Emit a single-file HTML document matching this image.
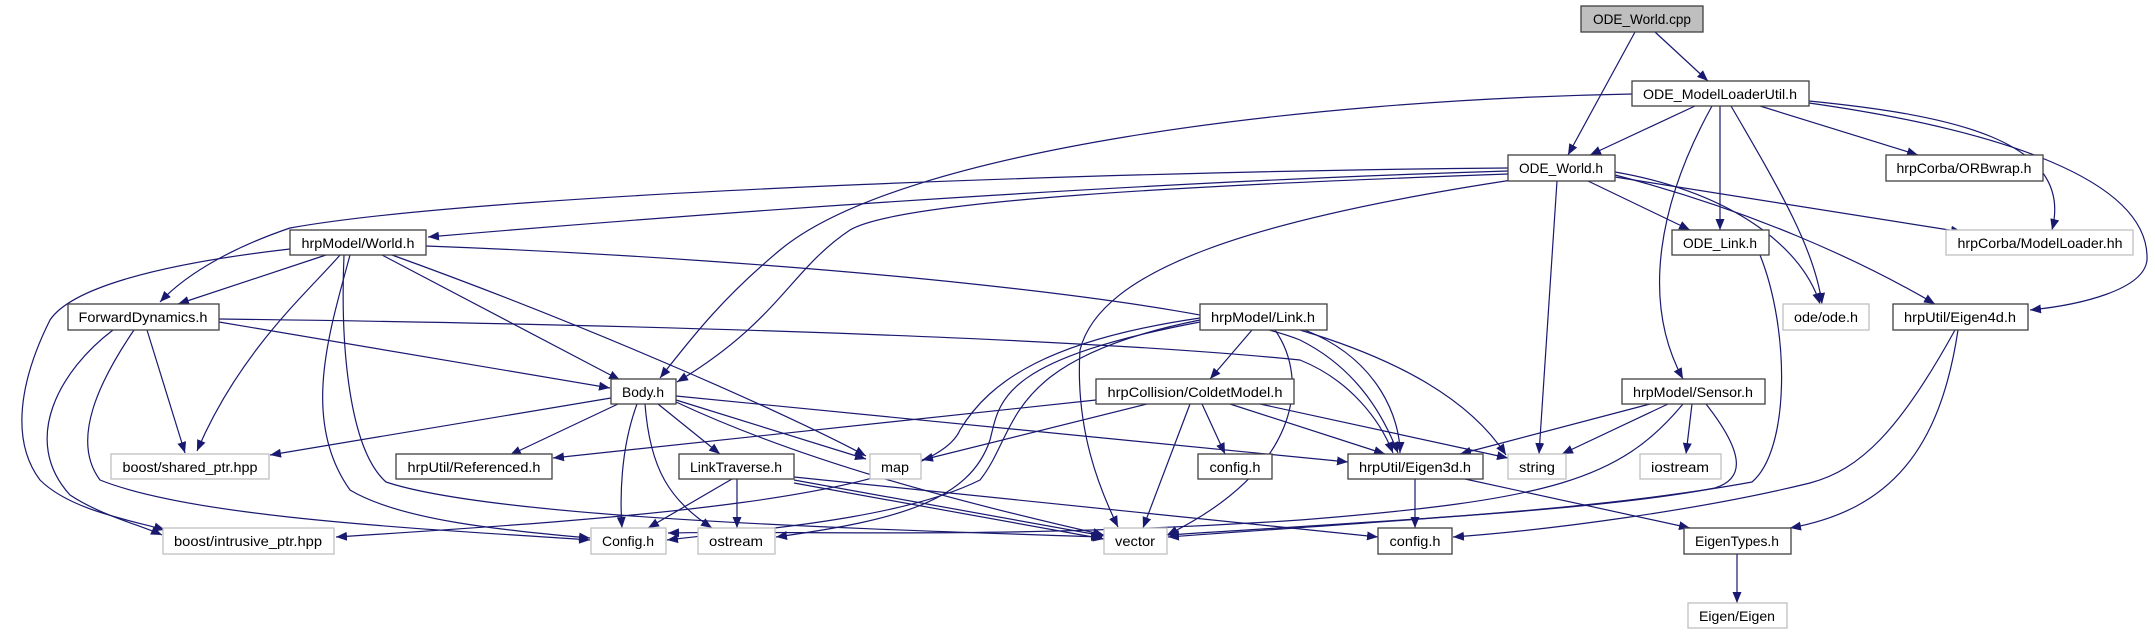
<!DOCTYPE html>
<html><head><meta charset="utf-8"><style>
html,body{margin:0;padding:0;background:#fff;}
svg{display:block;}
text{font-family:"Liberation Sans",sans-serif;font-size:14px;fill:#000;}
</style></head><body>
<svg width="2155" height="635" viewBox="0 0 2155 635" xmlns="http://www.w3.org/2000/svg">
<defs>
<marker id="a" markerUnits="userSpaceOnUse" markerWidth="12" markerHeight="9" refX="11" refY="4.5" orient="auto">
<path d="M0,0 L11,4.5 L0,9 z" fill="#191970"/>
</marker>
</defs>
<g fill="none" stroke="#191970" stroke-width="1.2" marker-end="url(#a)">
<path d="M1635,32 L1568,155"/>
<path d="M1655,32 L1708,81"/>
<path d="M1695,106 L1590,155"/>
<path d="M1632,94 C1300,100 900,150 780,250 C720,300 690,340 660,378"/>
<path d="M1720,106 L1720,230"/>
<path d="M1731,106 C1780,190 1815,250 1822,304"/>
<path d="M1760,106 L1918,155"/>
<path d="M1809,101 C1950,115 2075,140 2052,230"/>
<path d="M1809,103 C2000,130 2150,180 2147,260 C2144,290 2080,305 2030,310"/>
<path d="M1712,106 C1660,200 1640,300 1683,379"/>
<path d="M1508,171 C1200,180 800,205 428,237"/>
<path d="M1508,168 C1200,170 500,190 290,228 C240,245 190,270 160,302"/>
<path d="M1508,174 C1200,185 900,200 850,230 C790,270 780,320 677,382"/>
<path d="M1512,180 C1250,220 1100,270 1080,350 C1075,430 1100,490 1118,527"/>
<path d="M1557,181 L1539,454"/>
<path d="M1588,181 L1690,230"/>
<path d="M1615,172 C1720,190 1800,240 1820,304"/>
<path d="M1615,177 L1962,232"/>
<path d="M1615,175 C1750,210 1860,260 1935,304"/>
<path d="M326,255 L178,304"/>
<path d="M382,255 L620,380"/>
<path d="M340,255 C310,290 240,350 197,451"/>
<path d="M290,249 C150,265 70,290 50,320 C20,380 10,440 40,480 C70,510 130,520 165,530"/>
<path d="M350,255 C330,330 300,420 350,490 C400,520 500,530 590,538"/>
<path d="M344,255 C340,350 350,450 386,482 C500,520 900,530 1102,537"/>
<path d="M392,255 C600,330 800,420 866,456"/>
<path d="M426,246 C800,260 1200,300 1300,340 C1360,370 1385,420 1398,453"/>
<path d="M219,322 L610,388"/>
<path d="M147,330 L185,453"/>
<path d="M113,330 C60,370 20,440 70,495 C100,515 140,525 162,535"/>
<path d="M134,330 C100,380 70,440 100,480 C200,520 450,530 590,540"/>
<path d="M219,319 C700,325 1100,340 1300,360 C1350,380 1380,420 1393,453"/>
<path d="M611,398 L270,455"/>
<path d="M618,404 L510,455"/>
<path d="M658,404 L720,454"/>
<path d="M676,400 L866,459"/>
<path d="M637,404 C620,450 620,500 622,528"/>
<path d="M645,404 C650,470 670,500 712,528"/>
<path d="M676,402 C800,460 950,500 1104,535"/>
<path d="M676,396 L1348,462"/>
<path d="M1252,330 L1210,379"/>
<path d="M1305,330 C1380,360 1400,420 1400,453"/>
<path d="M1300,330 C1400,360 1470,400 1506,455"/>
<path d="M1275,330 C1310,380 1300,470 1167,535"/>
<path d="M1200,322 C1000,360 1000,400 990,440 C970,500 900,520 776,537"/>
<path d="M1200,320 C1000,360 1020,430 980,480 C900,520 750,530 667,540"/>
<path d="M1200,318 C1050,340 990,380 960,430 C930,500 600,520 336,537"/>
<path d="M1096,400 L553,458"/>
<path d="M1147,404 L922,460"/>
<path d="M1190,404 L1143,528"/>
<path d="M1202,404 L1225,454"/>
<path d="M1230,404 L1385,454"/>
<path d="M1260,404 L1508,458"/>
<path d="M732,479 L648,528"/>
<path d="M737,479 L737,528"/>
<path d="M794,480 L1104,536"/>
<path d="M794,483 L1104,539"/>
<path d="M794,477 L1378,537"/>
<path d="M1650,404 L1460,454"/>
<path d="M1668,404 L1562,454"/>
<path d="M1692,404 L1686,454"/>
<path d="M1683,404 C1620,480 1550,500 1300,520 C1000,540 800,530 668,533"/>
<path d="M1706,404 C1750,460 1740,480 1715,488 C1600,510 1400,520 1168,535"/>
<path d="M1760,255 C1790,330 1790,450 1752,482 C1600,510 1400,520 1168,537"/>
<path d="M1415,479 L1415,528"/>
<path d="M1465,479 L1690,528"/>
<path d="M1955,330 C1900,430 1860,470 1810,483 C1700,510 1550,530 1453,537"/>
<path d="M1958,330 C1940,450 1890,510 1790,528"/>
<path d="M1737,554 L1737,603"/>
</g>
<g stroke-width="1.3">
<rect x="1581" y="6" width="122" height="26" fill="#bfbfbf" stroke="#404040"/>
<g fill="#fff" stroke="#404040">
<rect x="1632" y="81" width="177" height="25"/>
<rect x="1508" y="155" width="107" height="26"/>
<rect x="1886" y="155" width="157" height="26"/>
<rect x="1672" y="230" width="97" height="25"/>
<rect x="1893" y="304" width="135" height="26"/>
<rect x="290" y="230" width="136" height="25"/>
<rect x="68" y="304" width="151" height="26"/>
<rect x="1200" y="304" width="127" height="26"/>
<rect x="611" y="379" width="65" height="25"/>
<rect x="1096" y="379" width="198" height="25"/>
<rect x="1622" y="379" width="143" height="25"/>
<rect x="396" y="454" width="156" height="25"/>
<rect x="679" y="454" width="115" height="25"/>
<rect x="1198" y="454" width="74" height="25"/>
<rect x="1348" y="454" width="135" height="25"/>
<rect x="1378" y="528" width="74" height="26"/>
<rect x="1684" y="528" width="107" height="26"/>
</g>
<g fill="#fff" stroke="#bfbfbf">
<rect x="1946" y="230" width="187" height="25"/>
<rect x="1783" y="304" width="86" height="26"/>
<rect x="111" y="454" width="158" height="25"/>
<rect x="870" y="454" width="51" height="25"/>
<rect x="1508" y="454" width="58" height="25"/>
<rect x="1640" y="454" width="81" height="25"/>
<rect x="163" y="528" width="171" height="26"/>
<rect x="591" y="528" width="75" height="26"/>
<rect x="698" y="528" width="77" height="26"/>
<rect x="1104" y="528" width="63" height="26"/>
<rect x="1688" y="603" width="99" height="25"/>
</g>
</g>
<g text-anchor="middle" lengthAdjust="spacingAndGlyphs">
<text x="1642" y="24" textLength="98" lengthAdjust="spacingAndGlyphs">ODE_World.cpp</text>
<text x="1720" y="99" textLength="154" lengthAdjust="spacingAndGlyphs">ODE_ModelLoaderUtil.h</text>
<text x="1561" y="173" textLength="84" lengthAdjust="spacingAndGlyphs">ODE_World.h</text>
<text x="1964" y="173" textLength="135" lengthAdjust="spacingAndGlyphs">hrpCorba/ORBwrap.h</text>
<text x="1720" y="248" textLength="74" lengthAdjust="spacingAndGlyphs">ODE_Link.h</text>
<text x="2040" y="248" textLength="165" lengthAdjust="spacingAndGlyphs">hrpCorba/ModelLoader.hh</text>
<text x="1826" y="322" textLength="64" lengthAdjust="spacingAndGlyphs">ode/ode.h</text>
<text x="1960" y="322" textLength="112" lengthAdjust="spacingAndGlyphs">hrpUtil/Eigen4d.h</text>
<text x="358" y="248" textLength="113" lengthAdjust="spacingAndGlyphs">hrpModel/World.h</text>
<text x="143" y="322" textLength="129" lengthAdjust="spacingAndGlyphs">ForwardDynamics.h</text>
<text x="1263" y="322" textLength="104" lengthAdjust="spacingAndGlyphs">hrpModel/Link.h</text>
<text x="643" y="397" textLength="42" lengthAdjust="spacingAndGlyphs">Body.h</text>
<text x="1195" y="397" textLength="175" lengthAdjust="spacingAndGlyphs">hrpCollision/ColdetModel.h</text>
<text x="1693" y="397" textLength="120" lengthAdjust="spacingAndGlyphs">hrpModel/Sensor.h</text>
<text x="190" y="472" textLength="135" lengthAdjust="spacingAndGlyphs">boost/shared_ptr.hpp</text>
<text x="474" y="472" textLength="133" lengthAdjust="spacingAndGlyphs">hrpUtil/Referenced.h</text>
<text x="736" y="472" textLength="92" lengthAdjust="spacingAndGlyphs">LinkTraverse.h</text>
<text x="895" y="472" textLength="28" lengthAdjust="spacingAndGlyphs">map</text>
<text x="1235" y="472" textLength="51" lengthAdjust="spacingAndGlyphs">config.h</text>
<text x="1415" y="472" textLength="112" lengthAdjust="spacingAndGlyphs">hrpUtil/Eigen3d.h</text>
<text x="1537" y="472" textLength="36" lengthAdjust="spacingAndGlyphs">string</text>
<text x="1680" y="472" textLength="58" lengthAdjust="spacingAndGlyphs">iostream</text>
<text x="248" y="546" textLength="148" lengthAdjust="spacingAndGlyphs">boost/intrusive_ptr.hpp</text>
<text x="628" y="546" textLength="52" lengthAdjust="spacingAndGlyphs">Config.h</text>
<text x="736" y="546" textLength="54" lengthAdjust="spacingAndGlyphs">ostream</text>
<text x="1135" y="546" textLength="40" lengthAdjust="spacingAndGlyphs">vector</text>
<text x="1415" y="546" textLength="51" lengthAdjust="spacingAndGlyphs">config.h</text>
<text x="1737" y="546" textLength="84" lengthAdjust="spacingAndGlyphs">EigenTypes.h</text>
<text x="1737" y="621" textLength="76" lengthAdjust="spacingAndGlyphs">Eigen/Eigen</text>
</g>
</svg>
</body></html>
